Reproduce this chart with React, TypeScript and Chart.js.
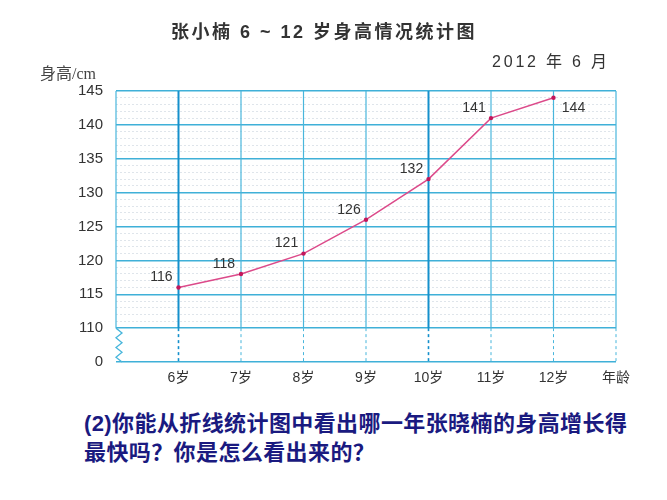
import React, { useEffect, useRef } from 'react';
import { Chart, registerables } from 'chart.js';

Chart.register(...registerables);

// ages along the bottom, heights in cm
const ages = [6, 7, 8, 9, 10, 11, 12];
const heights = [116, 118, 121, 126, 132, 141, 144];
const xEndLabel = '年龄';
const yMajorTicks = [110, 115, 120, 125, 130, 135, 140, 145];
const yBreakLabel = '0'; // the axis is broken between 0 and 110

const tickFont = '"Liberation Sans", "Noto Sans CJK SC", sans-serif';

const brokenGrid = {
  id: 'brokenGrid',
  beforeDatasetsDraw(chart: any) {
    const { ctx, chartArea, scales } = chart;
    const xs = scales.x;
    const ys = scales.y;
    const yBreak = ys.getPixelForValue(yMajorTicks[0]);
    const { top, bottom } = chartArea;
    ctx.save();
    for (let v = xs.min; v <= xs.max; v++) {
      const x = xs.getPixelForValue(v);
      const strong = v === 6 || v === 10;
      ctx.strokeStyle = strong ? '#1590cc' : '#48b6dc';
      ctx.lineWidth = strong ? 2 : 1.2;
      ctx.setLineDash([]);
      ctx.beginPath();
      ctx.moveTo(x, top);
      ctx.lineTo(x, yBreak);
      ctx.stroke();
      if (v === xs.min) {
        // zigzag break mark on the value axis
        const n = 7;
        const step = (bottom - yBreak) / n;
        ctx.lineWidth = 1.3;
        ctx.strokeStyle = '#48b6dc';
        ctx.beginPath();
        ctx.moveTo(x, yBreak);
        for (let i = 1; i <= n; i++) {
          ctx.lineTo(i % 2 === 1 ? x + 6 : x, yBreak + step * i);
        }
        ctx.stroke();
      } else {
        ctx.lineWidth = strong ? 1.6 : 1;
        ctx.setLineDash([3, 3]);
        ctx.beginPath();
        ctx.moveTo(x, yBreak);
        ctx.lineTo(x, bottom);
        ctx.stroke();
      }
    }
    ctx.restore();
  },
};

const valueLabels = {
  id: 'valueLabels',
  afterDatasetsDraw(chart: any) {
    const { ctx } = chart;
    const meta = chart.getDatasetMeta(0);
    ctx.save();
    ctx.font = '14px ' + tickFont;
    ctx.fillStyle = '#333';
    ctx.textAlign = 'center';
    ctx.textBaseline = 'middle';
    meta.data.forEach((pt: any, i: number) => {
      const last = i === meta.data.length - 1;
      const dx = last ? 20 : -17;
      const dy = last ? 10 : -10;
      ctx.fillText(String(heights[i]), pt.x + dx, pt.y + dy);
    });
    ctx.restore();
  },
};

const HeightChart: React.FC = () => {
  const chartRef = useRef<HTMLCanvasElement>(null);
  const chartInstance = useRef<Chart | null>(null);

  useEffect(() => {
    if (!chartRef.current) return;
    if (chartInstance.current) chartInstance.current.destroy();
    const ctx = chartRef.current.getContext('2d');
    if (!ctx) return;

    const yMin = yMajorTicks[0] - 5;
    const yMax = yMajorTicks[yMajorTicks.length - 1];

    chartInstance.current = new Chart(ctx, {
      type: 'line',
      data: {
        datasets: [
          {
            data: ages.map((a, i) => ({ x: a, y: heights[i] })),
            borderColor: '#dc4a8a',
            borderWidth: 1.5,
            pointRadius: 2.2,
            pointBackgroundColor: '#c2185b',
            pointBorderWidth: 0,
            tension: 0,
          },
        ],
      },
      options: {
        responsive: false,
        animation: false,
        layout: { padding: { top: 91, right: 51, bottom: 0, left: 0 } },
        plugins: { legend: { display: false }, tooltip: { enabled: false } },
        scales: {
          x: {
            type: 'linear',
            min: ages[0] - 1,
            max: ages[ages.length - 1] + 1,
            afterFit: (s: any) => { s.height = 38; },
            grid: { display: false, drawTicks: false },
            border: { display: false },
            ticks: {
              stepSize: 1,
              autoSkip: false,
              maxRotation: 0,
              padding: 8,
              color: '#333',
              font: { size: 14, family: tickFont },
              callback: (v: any) => {
                if (ages.includes(v)) return v + '岁';
                if (v === ages[ages.length - 1] + 1) return xEndLabel;
                return '';
              },
            },
          },
          y: {
            type: 'linear',
            min: yMin,
            max: yMax,
            afterFit: (s: any) => { s.width = 116; },
            grid: {
              drawTicks: false,
              color: (c: any) => {
                const v = c.tick ? c.tick.value : 0;
                if (v % 5 === 0) return '#3fb0d8';
                if (v > yMajorTicks[0]) return 'rgba(150,170,190,0.3)';
                return 'rgba(0,0,0,0)';
              },
              lineWidth: (c: any) => (c.tick && c.tick.value % 5 === 0 ? 1.5 : 1),
            },
            border: {
              display: false,
              dash: (c: any) => (c.tick && c.tick.value % 5 !== 0 ? [2, 2] : []),
            },
            ticks: {
              stepSize: 1,
              autoSkip: false,
              padding: 13,
              color: '#333',
              font: { size: 15, family: tickFont },
              callback: (v: any) => {
                if (v === yMin) return yBreakLabel;
                if (yMajorTicks.includes(v)) return String(v);
                return '';
              },
            },
          },
        },
      },
      plugins: [brokenGrid, valueLabels],
    } as any);

    return () => {
      if (chartInstance.current) {
        chartInstance.current.destroy();
        chartInstance.current = null;
      }
    };
  }, []);

  return <canvas ref={chartRef} width={667} height={400} style={{ position: 'absolute', left: 0, top: 0 }} />;
};

const cjk = '"Liberation Sans", "Noto Sans CJK SC", sans-serif';
const cjkFirst = '"Noto Sans CJK SC", "Liberation Sans", sans-serif';

export default function App() {
  return (
    <div style={{ position: 'absolute', left: 0, top: 0, width: 667, height: 500, background: '#fff', overflow: 'hidden' }}>
      <HeightChart />
      <div style={{ position: 'absolute', left: 0, width: 648, top: 20, lineHeight: '24px', textAlign: 'center', fontFamily: cjk, fontSize: 18, fontWeight: 'bold', letterSpacing: '2.5px', color: '#333', whiteSpace: 'nowrap' }}>
        张小楠 6 ~ 12 岁身高情况统计图
      </div>
      <div style={{ position: 'absolute', left: 492, top: 52, lineHeight: '20px', fontFamily: cjk, fontSize: 16, letterSpacing: '2.8px', color: '#333', whiteSpace: 'nowrap' }}>
        2012 年 6 月
      </div>
      <div style={{ position: 'absolute', left: 40, top: 64, lineHeight: '20px', fontFamily: '"Liberation Serif", "Noto Sans CJK SC", serif', fontSize: 16, color: '#444', whiteSpace: 'nowrap' }}>
        身高/cm
      </div>
      <div style={{ position: 'absolute', left: 84, top: 408, lineHeight: '26px', fontFamily: cjkFirst, fontSize: 22, fontWeight: 'bold', letterSpacing: '0.4px', color: '#1a1a80', whiteSpace: 'nowrap' }}>
        <span style={{ fontFamily: cjk }}>(2)</span>你能从折线统计图中看出哪一年张晓楠的身高增长得
        <br />
        最快吗？你是怎么看出来的？
      </div>
    </div>
  );
}
